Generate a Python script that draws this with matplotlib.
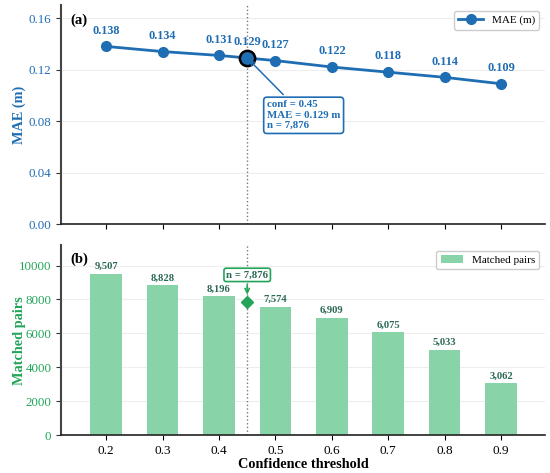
import matplotlib
matplotlib.use("Agg")
import matplotlib.pyplot as plt

plt.rcParams['font.family'] = ['Liberation Serif', 'DejaVu Serif']

thresholds = [0.2, 0.3, 0.4, 0.5, 0.6, 0.7, 0.8, 0.9]
mae = [0.138, 0.134, 0.131, 0.127, 0.122, 0.118, 0.114, 0.109]
pairs = [9507, 8828, 8196, 7574, 6909, 6075, 5033, 3062]
sel_conf = 0.45
sel_mae = 0.129
sel_n = 7876

blue = '#1f6db3'
green = '#22a559'
bar_green = '#88d3a8'
dark_green = '#2a6a52'

fig, (ax1, ax2) = plt.subplots(2, 1, figsize=(5.5, 4.73), dpi=100, sharex=True,
                               gridspec_kw=dict(height_ratios=[219, 190]))
fig.subplots_adjust(left=0.111, right=0.991, top=0.989, bottom=0.080, hspace=0.103)

# (a) MAE
ax1.plot(thresholds, mae, '-o', color=blue, lw=2, ms=7, label='MAE (m)', zorder=3)
ax1.plot([sel_conf], [sel_mae], 'o', color=blue, ms=11, mec='black', mew=1.8, zorder=4)
for x, y in zip(thresholds, mae):
    ax1.annotate(f'{y:.3f}', (x, y), xytext=(0, 7), textcoords='offset points',
                 ha='center', va='bottom', color=blue, fontsize=8.8, fontweight='bold')
ax1.annotate(f'{sel_mae:.3f}', (sel_conf, sel_mae), xytext=(0, 7), textcoords='offset points',
             ha='center', va='bottom', color=blue, fontsize=8.8, fontweight='bold')
ax1.annotate(f'conf = {sel_conf}\nMAE = {sel_mae:.3f} m\nn = {sel_n:,}',
             xy=(sel_conf, sel_mae), xytext=(0.485, 0.0845), ha='left', va='center',
             color=blue, fontsize=7.8, fontweight='bold', linespacing=1.2,
             bbox=dict(boxstyle='round,pad=0.3', fc='white', ec=blue, lw=1.2),
             arrowprops=dict(arrowstyle='->', color=blue, lw=1.1), zorder=5)
ax1.axvline(sel_conf, color='#777777', ls=':', lw=1, zorder=1)
ax1.set_ylim(0, 0.17)
ax1.set_yticks([0, 0.04, 0.08, 0.12, 0.16])
ax1.set_ylabel('MAE (m)', color=blue, fontsize=10.3, fontweight='bold')
ax1.yaxis.set_label_coords(-0.072, 0.5)
ax1.tick_params(axis='y', colors=blue, labelsize=9.3)
ax1.tick_params(axis='y', color='#333333')
ax1.text(0.02, 0.96, '(a)', transform=ax1.transAxes, fontsize=10.5, fontweight='bold', va='top')
ax1.legend(loc='upper right', fontsize=8, framealpha=1, handlelength=2.2)

# (b) matched pairs
ax2.bar(thresholds, pairs, width=0.056, color=bar_green, label='Matched pairs', zorder=2)
for x, n in zip(thresholds, pairs):
    ax2.annotate(f'{n:,}', (x, n), xytext=(0, 2), textcoords='offset points',
                 ha='center', va='bottom', color=dark_green, fontsize=7.6, fontweight='bold')
ax2.plot([sel_conf], [sel_n], 'D', color=green, ms=6, zorder=4)
ax2.annotate(f'n = {sel_n:,}', xy=(sel_conf, sel_n), xytext=(sel_conf, 9450),
             ha='center', va='center', color=dark_green, fontsize=7.8, fontweight='bold',
             bbox=dict(boxstyle='round,pad=0.2', fc='white', ec=green, lw=1.2),
             arrowprops=dict(arrowstyle='->', color=green, lw=1.2, shrinkB=5), zorder=5)
ax2.axvline(sel_conf, color='#777777', ls=':', lw=1, zorder=1)
ax2.set_ylim(0, 11200)
ax2.set_yticks([0, 2000, 4000, 6000, 8000, 10000])
ax2.set_ylabel('Matched pairs', color=green, fontsize=10.3, fontweight='bold')
ax2.yaxis.set_label_coords(-0.072, 0.5)
ax2.tick_params(axis='y', colors=green, labelsize=9.3)
ax2.tick_params(axis='y', color='#333333')
ax2.tick_params(axis='x', labelsize=9.5)
ax2.text(0.02, 0.96, '(b)', transform=ax2.transAxes, fontsize=10.5, fontweight='bold', va='top')
ax2.legend(loc='upper right', fontsize=8, framealpha=1)
ax2.set_xlabel('Confidence threshold', fontsize=10.3, fontweight='bold', labelpad=1)
ax2.set_xticks(thresholds)
ax2.set_xlim(0.12, 0.978)

for ax in (ax1, ax2):
    ax.grid(axis='y', color='#eeeeee', lw=0.8, zorder=0)
    ax.set_axisbelow(True)
    ax.spines['top'].set_visible(False)
    ax.spines['right'].set_visible(False)
    ax.spines['left'].set_color('#444444')
    ax.spines['left'].set_linewidth(1.5)
    ax.spines['bottom'].set_color('#222222')
    ax.spines['bottom'].set_linewidth(1.2)

fig.savefig('out.png', dpi=100)
